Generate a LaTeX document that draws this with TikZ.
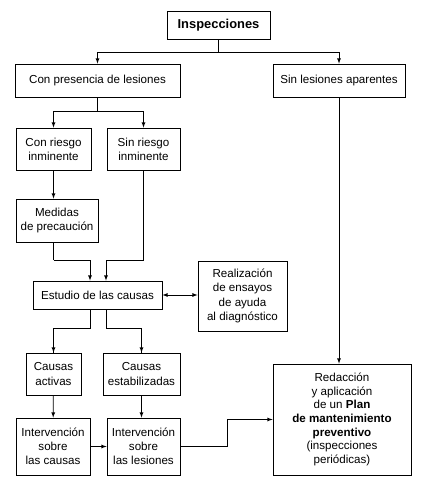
\documentclass[tikz,border=0pt]{standalone}
\usepackage{fontspec}
\setmainfont{Liberation Sans}
\usetikzlibrary{arrows}

\tikzset{
  box/.style={draw,line width=0.8pt,fill=white,align=center,inner sep=0pt,
    font=\fontsize{11.6}{14.2}\selectfont},
  link/.style={line width=0.8pt,>=latex}
}

\begin{document}
\begin{tikzpicture}[x=1pt, y=-1pt]
      \useasboundingbox (0,0) rectangle (420,484);
      \node[box,minimum width=103pt,minimum height=28pt,font=\fontsize{12.9}{15}\selectfont\bfseries] (insp) at (218.5, 25) {Inspecciones};
      \node[box,minimum width=165pt,minimum height=33pt] (conpres) at (97.5, 80.5) {Con presencia de lesiones};
      \node[box,minimum width=132pt,minimum height=33pt] (sinles) at (339, 80.5) {Sin lesiones aparentes};
      \node[box,minimum width=75pt,minimum height=42pt] (conries) at (53.5, 149) {Con riesgo\\inminente};
      \node[box,minimum width=73pt,minimum height=42pt] (sinries) at (143.5, 149) {Sin riesgo\\inminente};
      \node[box,minimum width=82pt,minimum height=43pt] (medidas) at (57, 220.5) {Medidas\\de precaución};
      \node[box,minimum width=129pt,minimum height=28pt] (estudio) at (97.5, 295) {Estudio de las causas};
      \node[box,minimum width=89pt,minimum height=70pt] (realiz) at (242.5, 296) {Realización\\de ensayos\\de ayuda\\al diagnóstico};
      \node[box,minimum width=55pt,minimum height=42pt] (activas) at (53.5, 374) {Causas\\activas};
      \node[box,minimum width=77pt,minimum height=42pt] (estab) at (141.5, 374) {Causas\\estabilizadas};
      \node[box,minimum width=74pt,minimum height=57pt] (intcaus) at (53, 446.5) {Intervención\\sobre\\las causas};
      \node[box,minimum width=73pt,minimum height=57pt] (intles) at (143.5, 446.5) {Intervención\\sobre\\las lesiones};
      \node[box,minimum width=138pt,minimum height=111pt,font=\fontsize{11.6}{13.6}\selectfont] (plan) at (342, 419.5) {Redacción\\y aplicación\\de un \textbf{Plan}\\\textbf{de mantenimiento}\\\textbf{preventivo}\\(inspecciones\\periódicas)};
      \coordinate (split1) at (218.5, 52);
      \coordinate (split2) at (97.5, 111);
      \coordinate (join1) at (53.5, 260);
      \coordinate (join2) at (143.5, 260);
      \coordinate (split3) at (90, 328);
      \coordinate (split4) at (106, 328);
      \coordinate (bend) at (227, 446.5);
      \draw[link] (insp) -- (split1);
      \draw[link,->] (split1) -| (conpres);
      \draw[link,->] (split1) -| (sinles);
      \draw[link] (conpres) -- (split2);
      \draw[link,->] (split2) -| (conries);
      \draw[link,->] (split2) -| (sinries);
      \draw[link,->] (conries) -- (conries.south |- medidas.north);
      \draw[link] (conries.south |- medidas.south) -- (join1);
      \draw[link,->] (join1) -| ([xshift=-7.5pt]estudio.north);
      \draw[link] (sinries) -- (join2);
      \draw[link,->] (join2) -| ([xshift=8.5pt]estudio.north);
      \draw[link,<->] (estudio) -- (estudio -| realiz.west);
      \draw[link] ([xshift=-7.5pt]estudio.south) |- (split3) -| (activas);
      \draw[link] ([xshift=8.5pt]estudio.south) |- (split4) -| (estab);
      \draw[link,->] (split3 -| activas) -- (activas);
      \draw[link,->] (split4 -| estab) -- (estab);
      \draw[link,->] (activas) -- (intcaus);
      \draw[link,->] (estab) -- (estab |- intles.north);
      \draw[link,->] (intcaus) -- (intles);
      \draw[link,->] (intles) -- (bend) |- (plan);
      \draw[link,->] (sinles) -- (sinles |- plan.north);
   \end{tikzpicture}
\end{document}
